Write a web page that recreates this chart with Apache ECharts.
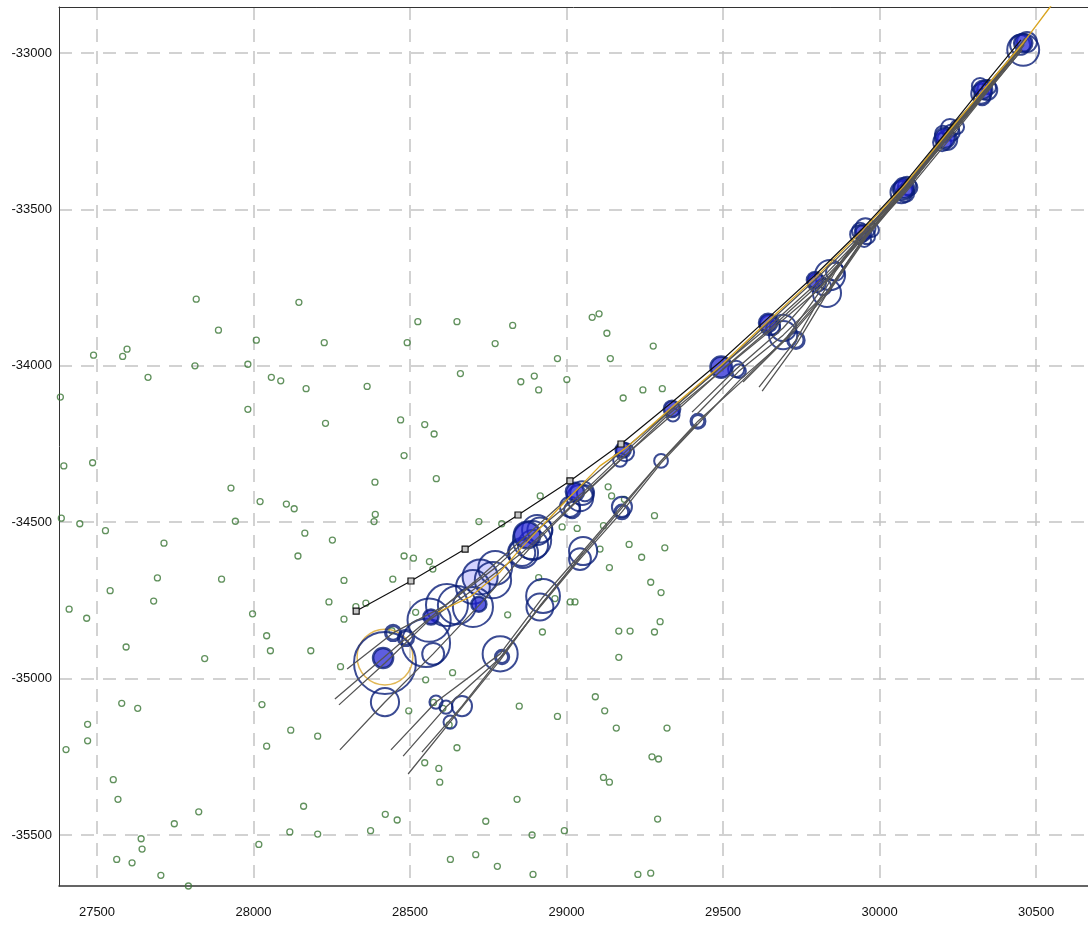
<!DOCTYPE html>
<html>
<head>
<meta charset="utf-8">
<script src="https://cdn.jsdelivr.net/npm/echarts@6/dist/echarts.min.js"></script>
<style>
  html, body { margin: 0; padding: 0; background: #fff; }
  #chart { width: 1088px; height: 925px; }
</style>
</head>
<body>
<div id="chart"></div>
<script>
// Scattered observations (easting, northing)
const observations = [
  [27817,-33787],[27888,-33886],[28009,-33918],[27489,-33966],[27596,-33947],[27582,-33970],[27813,-34000],[27982,-33995],
  [27663,-34037],[28057,-34037],[27383,-34100],[27982,-34139],[27394,-34320],[27486,-34310],[27928,-34391],[28021,-34434],
  [27386,-34487],[27445,-34505],[27942,-34497],[27527,-34527],[27714,-34567],[27693,-34678],[27898,-34682],[27542,-34719],
  [28145,-33797],[28525,-33859],[28650,-33859],[28226,-33926],[28491,-33926],[28087,-34048],[28168,-34073],[28363,-34066],
  [28661,-34025],[28230,-34184],[28470,-34173],[28547,-34188],[28577,-34218],[28481,-34287],[28388,-34372],[28584,-34361],
  [28105,-34442],[28130,-34457],[28389,-34475],[28385,-34498],[28720,-34498],[28164,-34535],[28252,-34557],[28142,-34608],
  [28481,-34608],[28511,-34615],[28562,-34626],[28573,-34650],[28289,-34686],[28445,-34682],
  [29082,-33845],[29104,-33834],[28828,-33871],[28772,-33929],[29129,-33896],[29277,-33937],[28971,-33977],[29140,-33977],
  [28897,-34033],[28854,-34051],[29001,-34044],[28911,-34077],[29181,-34103],[29244,-34077],[29306,-34073],[28916,-34416],
  [29133,-34387],[29144,-34416],[29185,-34427],[29281,-34479],[28793,-34505],[28986,-34515],[29034,-34520],[29118,-34511],
  [29200,-34571],[29314,-34582],[29107,-34586],[29240,-34612],[29137,-34645],[28911,-34677],[29269,-34692],
  [27681,-34752],[27411,-34778],[27467,-34807],[27997,-34793],[28042,-34863],[28054,-34911],[27593,-34899],[27844,-34936],
  [27579,-35079],[27630,-35095],[28027,-35083],[27470,-35146],[27470,-35199],[27401,-35227],[28042,-35216],[27552,-35323],
  [27567,-35386],[27825,-35426],[27747,-35464],[27641,-35512],[27644,-35545],[28017,-35530],[27563,-35578],[27612,-35589],
  [27704,-35629],[27792,-35663],
  [28241,-34755],[28327,-34770],[28359,-34759],[28289,-34810],[28183,-34911],[28278,-34962],[28518,-34788],[28550,-35004],
  [28636,-34981],[28496,-35103],[28119,-35165],[28205,-35184],[28650,-35221],[28547,-35269],[28592,-35287],[28595,-35331],
  [28160,-35408],[28421,-35434],[28459,-35452],[28742,-35456],[28116,-35490],[28205,-35497],[28374,-35486],[28710,-35563],
  [28629,-35578],[28521,-35664],[28575,-35076],[28605,-35095],[28625,-35148],[28442,-34847],
  [29302,-34725],[28963,-34744],[29012,-34755],[29027,-34755],[28812,-34796],[28923,-34851],[29167,-34848],[29203,-34848],
  [29281,-34851],[29299,-34818],[29167,-34932],[29092,-35058],[29122,-35103],[29159,-35158],[29321,-35158],[28849,-35088],
  [28971,-35121],[29273,-35250],[29294,-35257],[29118,-35316],[29137,-35331],[28842,-35386],[28890,-35500],[28993,-35486],
  [29291,-35449],[28779,-35600],[28893,-35626],[29228,-35626],[29269,-35622],[29328,-35666]
];

// Ensemble tracks, each a list of [easting, northing]
const trackA = [[28260,-35065],[28414,-34934],[28567,-34803],[28724,-34675],[28874,-34541],[29027,-34403],[29181,-34269],[29337,-34138],[29494,-34004],[29644,-33863],[29794,-33726],[29947,-33575],[30078,-33432],[30209,-33272],[30331,-33118],[30459,-32968]];
const trackB = [[28273,-35084],[28420,-34950],[28561,-34813],[28701,-34717],[28858,-34598],[29011,-34451],[29171,-34301],[29340,-34154],[29497,-34013],[29653,-33879],[29804,-33742],[29951,-33588],[30085,-33444],[30216,-33285],[30337,-33134],[30455,-32990]];
const trackC = [[28299,-34969],[28446,-34854],[28615,-34765],[28772,-34646],[28906,-34525],[29050,-34407],[29187,-34276],[29347,-34129],[29503,-33994],[29663,-33860],[29813,-33723],[29960,-33569],[30091,-33422],[30225,-33246],[30344,-33112],[30468,-32958]];
const trackD = [[28276,-35228],[28420,-35075],[28574,-34921],[28724,-34762],[28883,-34583],[29037,-34429],[29187,-34288],[29331,-34151],[29490,-34020],[29650,-33889],[29804,-33758],[29941,-33598],[30072,-33448],[30206,-33288],[30328,-33141],[30449,-32984]];
const trackE = [[28439,-35228],[28583,-35075],[28788,-34921],[28925,-34739],[29053,-34592],[29177,-34448],[29302,-34304],[29420,-34177],[29561,-34049],[29714,-33898],[29836,-33758],[29954,-33585],[30082,-33435],[30213,-33269],[30334,-33122],[30462,-32971]];
const trackF = [[28478,-35248],[28615,-35091],[28791,-34931],[28915,-34771],[29043,-34618],[29177,-34467],[29302,-34311],[29423,-34183],[29554,-34045],[29714,-33905],[29842,-33758],[29957,-33591],[30085,-33438],[30219,-33259],[30337,-33125],[30459,-32978]];
const trackG = [[28494,-35305],[28628,-35139],[28788,-34941],[28919,-34762],[29046,-34608],[29174,-34458],[29299,-34308],[29417,-34186]];
const trackH = [[28538,-35235],[28666,-35088],[28794,-34925],[28931,-34749],[29053,-34598]];
const trackI = [[29401,-34148],[29542,-34010],[29692,-33879],[29842,-33710],[29957,-33566],[30085,-33422],[30225,-33240],[30344,-33112],[30471,-32958]];
const trackJ = [[29417,-34154],[29551,-34017],[29692,-33902],[29829,-33767],[29947,-33598],[30075,-33448],[30213,-33278],[30328,-33141],[30455,-32990]];
const trackK = [[29564,-34052],[29698,-33918],[29820,-33748],[29938,-33582],[30082,-33438],[30209,-33278],[30337,-33125],[30462,-32974]];
const trackL = [[29615,-34068],[29733,-33918],[29858,-33700],[29963,-33560],[30091,-33412],[30241,-33237],[30347,-33112],[30465,-32952]];
const trackM = [[29625,-34081],[29737,-33927],[29829,-33774],[29957,-33585],[30088,-33432],[30219,-33262],[30334,-33128],[30452,-32984]];
const ensembleTracks = [trackA, trackB, trackC, trackD, trackE, trackF, trackG, trackH, trackI, trackJ, trackK, trackL, trackM];

// Reference route (marked stations) and best-estimate path
const stationRoute = [[28328,-34784],[28503,-34688],[28676,-34586],[28845,-34477],[29011,-34368],[29174,-34250],[29334,-34119],[29490,-33988],[29641,-33850],[29791,-33713],[29941,-33566],[30075,-33422],[30206,-33262],[30328,-33109],[30452,-32958]];
const markedStations = 6;
const bestPath = [[28590,-34787],[28692,-34739],[28788,-34659],[28855,-34583],[28970,-34461],[29107,-34320],[29193,-34260],[29340,-34129],[29494,-33998],[29644,-33857],[29794,-33719],[29944,-33569],[30078,-33425],[30209,-33265],[30334,-33115],[30459,-32968],[30545,-32853],[30609,-32767]];

// Uncertainty circles: [easting, northing, radius]
const openRings = [
  [28420,-34950,99],[28420,-35075,45],[28561,-34813,69],[28618,-34765,67],[28551,-34886,77],[28574,-34921,35],
  [28650,-34765,61],[28701,-34771,64],[28772,-34646,54],[28765,-34685,58],[28701,-34707,54],[28906,-34525,48],
  [28858,-34598,42],[28890,-34557,61],[28893,-34573,48],[28861,-34598,48],[28915,-34525,40],
  [29050,-34407,38],[29043,-34423,42],[29011,-34451,32],[29018,-34461,26],[29059,-34407,26],[29177,-34451,32],
  [29053,-34592,45],[29043,-34618,35],[28925,-34736,54],[28915,-34771,43],[28788,-34921,56],
  [28583,-35075,21],[28615,-35091,21],[28666,-35088,32],[28628,-35139,21],[29302,-34304,22],
  [29187,-34276,29],[29171,-34301,22],[29340,-34157,21],[29542,-34010,26],[29551,-34017,22],
  [29692,-33879,42],[29692,-33902,45],[29660,-33879,22],[29650,-33870,32],
  [29842,-33710,48],[29832,-33767,45],[29820,-33748,26],[29858,-33700,29],[29800,-33735,29],
  [29938,-33569,26],[29960,-33585,26],[29976,-33566,22],[29951,-33598,22],[29935,-33580,29],[29955,-33560,32],
  [30075,-33438,32],[30088,-33425,29],[30082,-33448,29],[30070,-33445,35],[30095,-33430,26],
  [30225,-33240,29],[30248,-33237,22],[30216,-33278,32],[30203,-33259,26],[30200,-33285,29],[30230,-33255,26],
  [30344,-33118,32],[30328,-33141,26],[30321,-33106,26],[30325,-33130,32],[30350,-33110,22],
  [30459,-32990,51],[30471,-32965,32],[30449,-32974,32]
];
const heavyRings = [[28446,-34854,24],[28487,-34870,24],[28794,-34931,21],[29177,-34467,22],[29420,-34177,22],[29733,-33918,26]];
const solidDiscs = [
  [28414,-34934,32],[28567,-34803,24],[28720,-34762,24],[28874,-34541,42],[29027,-34403,29],[29181,-34269,24],
  [29337,-34138,26],[29494,-34004,34],[29644,-33863,29],[29794,-33726,26],[29947,-33575,26],[30078,-33432,32],
  [30209,-33272,32],[30331,-33118,29],[30459,-32968,29]
];
const paleDiscs = [[28724,-34675,56]];
const originRing = [[28420,-34931,89]];

const X_MIN = 27378.6, X_MAX = 30666, Y_MIN = -35663, Y_MAX = -32853;

const chart = echarts.init(document.getElementById('chart'));
const labelFont = { fontFamily: 'Liberation Sans, Arial, sans-serif', fontSize: 13, color: '#111', formatter: v => String(v) };
const gridLines = { show: true, showMinLine: false, showMaxLine: false, lineStyle: { color: '#c4c4c4', width: 1.5, type: [13, 9] } };

chart.setOption({
  animation: false,
  backgroundColor: '#fff',
  grid: { left: 59, right: 0, top: 7, bottom: 39 },
  xAxis: [
    { type: 'value', min: X_MIN, max: X_MAX, position: 'bottom',
      axisLine: { show: true, onZero: false, lineStyle: { color: '#333', width: 1.5 } },
      axisTick: { show: false },
      axisLabel: Object.assign({ margin: 20, showMinLabel: false, showMaxLabel: false }, labelFont),
      splitLine: gridLines },
    { type: 'value', min: X_MIN, max: X_MAX, position: 'top',
      axisLine: { show: true, onZero: false, lineStyle: { color: '#333', width: 1 } },
      axisTick: { show: false }, axisLabel: { show: false }, splitLine: { show: false } }
  ],
  yAxis: { type: 'value', min: Y_MIN, max: Y_MAX,
    axisLine: { show: true, onZero: false, lineStyle: { color: '#333', width: 1 } },
    axisTick: { show: false },
    axisLabel: Object.assign({ margin: 7, showMinLabel: false, showMaxLabel: false }, labelFont),
    splitLine: gridLines },
  series: []
});

// pixels per data unit, taken from the x axis scale
const k = (chart.convertToPixel({ xAxisIndex: 0 }, 29000) - chart.convertToPixel({ xAxisIndex: 0 }, 28000)) / 1000;
const ringSize = v => 2 * v[2] * k;
const navy = '#0a1e78';

const series = [];
series.push({
  type: 'scatter', data: observations, symbol: 'circle', symbolSize: 6, z: 2, silent: true,
  itemStyle: { color: 'rgba(0,0,0,0)', borderColor: '#3a7535', borderWidth: 1.3 }
});
series.push({
  type: 'scatter', data: originRing, symbolSize: ringSize, z: 3, silent: true,
  itemStyle: { color: 'rgba(0,0,0,0)', borderColor: '#d9a52a', borderWidth: 1.5 }
});
series.push({
  type: 'scatter', data: paleDiscs, symbolSize: ringSize, z: 3, silent: true,
  itemStyle: { color: 'rgba(170,170,255,0.65)', borderColor: navy, borderWidth: 2 }
});
series.push({
  type: 'scatter', data: openRings, symbolSize: ringSize, z: 3, silent: true,
  itemStyle: { color: 'rgba(0,0,0,0)', borderColor: navy, borderWidth: 2 }
});
series.push({
  type: 'scatter', data: heavyRings, symbolSize: ringSize, z: 3, silent: true,
  itemStyle: { color: 'rgba(0,0,0,0)', borderColor: navy, borderWidth: 3.2 }
});
series.push({
  type: 'scatter', data: solidDiscs, symbolSize: ringSize, z: 3, silent: true,
  itemStyle: { color: 'rgba(32,32,210,0.9)', borderColor: navy, borderWidth: 2.5 }
});
ensembleTracks.forEach(t => series.push({
  type: 'line', data: t, symbol: 'none', z: 4, silent: true,
  lineStyle: { color: '#555', width: 1.3 }
}));
series.push({
  type: 'line', data: bestPath, symbol: 'none', z: 5, silent: true,
  lineStyle: { color: '#d9a520', width: 1.3 }
});
series.push({
  type: 'line', z: 6, silent: true,
  data: stationRoute.map((p, i) => ({ value: p, symbol: i < markedStations ? 'rect' : 'none' })),
  symbolSize: 6,
  itemStyle: { color: '#c8c8c8', borderColor: '#111', borderWidth: 1.2 },
  lineStyle: { color: '#111', width: 1.2 }
});

chart.setOption({ series: series });
</script>
</body>
</html>
